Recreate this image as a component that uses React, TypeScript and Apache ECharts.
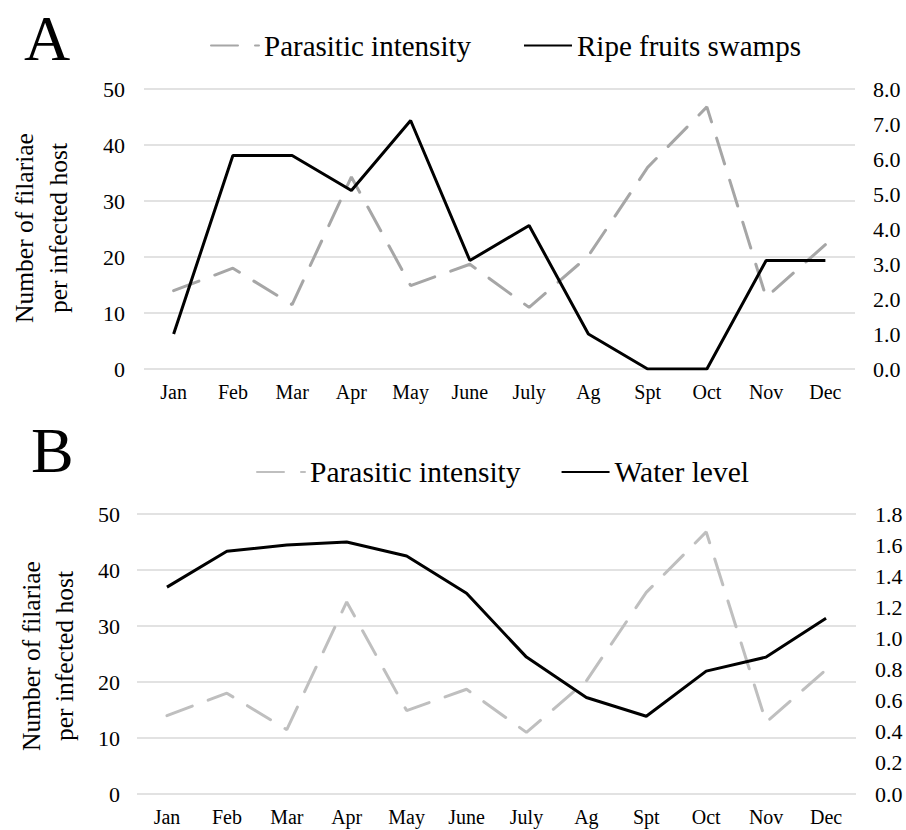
import React, { useEffect, useRef } from "react";
import * as echarts from "echarts";

const months = ["Jan", "Feb", "Mar", "Apr", "May", "June", "July", "Ag", "Spt", "Oct", "Nov", "Dec"];
const parasiticIntensity = [14, 18, 11.5, 34.3, 14.9, 18.7, 11, 20.2, 36, 46.8, 12.8, 22.2];
const ripeFruitsSwamps = [1.0, 6.1, 6.1, 5.1, 7.1, 3.1, 4.1, 1.0, 0, 0, 3.1, 3.1];
const waterLevel = [1.33, 1.56, 1.6, 1.62, 1.53, 1.29, 0.88, 0.62, 0.5, 0.79, 0.88, 1.13];

const FONT = "Liberation Serif";
const GRID_COLOR = "#d9d9d9";
const DASH = [27, 17];

export default function App() {
  const ref = useRef<HTMLDivElement>(null);

  useEffect(() => {
    if (!ref.current) return;
    const chart = echarts.init(ref.current, undefined, { renderer: "svg" });

    const monthStyle = { fontFamily: FONT, fontSize: 20, color: "#000" };
    const numStyle = { fontFamily: FONT, fontSize: 22, color: "#000" };
    const xAxisBase = (gridIndex: number) => ({
      type: "category" as const,
      gridIndex,
      data: months,
      boundaryGap: true,
      axisLine: { show: false },
      axisTick: { show: false },
      axisLabel: { ...monthStyle, margin: 13 },
    });
    const leftAxis = (gridIndex: number, margin: number) => ({
      type: "value" as const,
      gridIndex,
      position: "left" as const,
      min: 0,
      max: 50,
      interval: 10,
      axisLine: { show: false },
      axisTick: { show: false },
      axisLabel: { ...numStyle, margin },
      splitLine: { show: true, lineStyle: { color: GRID_COLOR, width: 1.5 } },
    });
    const rightAxis = (gridIndex: number, max: number, interval: number, margin: number) => ({
      type: "value" as const,
      gridIndex,
      position: "right" as const,
      min: 0,
      max,
      interval,
      axisLine: { show: false },
      axisTick: { show: false },
      axisLabel: { ...numStyle, margin, formatter: (v: number) => v.toFixed(1) },
      splitLine: { show: false },
    });

    const yName = "Number of filariae\nper infected host";
    const legendBase = {
      itemWidth: 48,
      itemHeight: 14,
      itemGap: 52,
      itemTextGap: 7,
      itemStyle: { opacity: 0 },
      textStyle: { fontFamily: FONT, fontSize: 29, color: "#000" },
      selectedMode: false,
    };

    chart.setOption({
      animation: false,
      backgroundColor: "#fff",
      grid: [
        { left: 144, right: 51, top: 89, height: 280 },
        { left: 137, right: 50, top: 514, height: 280 },
      ],
      legend: [
        {
          ...legendBase,
          left: 205,
          top: 26,
          data: ["Parasitic intensity", "Ripe fruits swamps"],
        },
        {
          ...legendBase,
          left: 251,
          top: 452,
          itemGap: 40,
          textStyle: { fontFamily: FONT, fontSize: 29.5, color: "#000" },
          data: [
            { name: "Parasitic intensity", lineStyle: { color: "#bfbfbf" } },
            "Water level",
          ],
        },
      ],
      xAxis: [xAxisBase(0), xAxisBase(1)],
      yAxis: [leftAxis(0, 19), rightAxis(0, 8, 1, 18), leftAxis(1, 17), rightAxis(1, 1.8, 0.2, 19)],
      series: [
        {
          name: "Parasitic intensity",
          type: "line",
          xAxisIndex: 0,
          yAxisIndex: 0,
          data: parasiticIntensity,
          symbol: "none",
          lineStyle: { color: "#a6a6a6", width: 3, type: DASH, cap: "round" },
          itemStyle: { color: "#a6a6a6" },
          z: 2,
        },
        {
          name: "Ripe fruits swamps",
          type: "line",
          xAxisIndex: 0,
          yAxisIndex: 1,
          data: ripeFruitsSwamps,
          symbol: "none",
          lineStyle: { color: "#000", width: 3 },
          itemStyle: { color: "#000" },
          z: 3,
        },
        {
          name: "Parasitic intensity",
          type: "line",
          xAxisIndex: 1,
          yAxisIndex: 2,
          data: parasiticIntensity,
          symbol: "none",
          lineStyle: { color: "#bfbfbf", width: 3, type: DASH, cap: "round" },
          itemStyle: { color: "#bfbfbf" },
          z: 2,
        },
        {
          name: "Water level",
          type: "line",
          xAxisIndex: 1,
          yAxisIndex: 3,
          data: waterLevel,
          symbol: "none",
          lineStyle: { color: "#000", width: 3 },
          itemStyle: { color: "#000" },
          z: 3,
        },
      ],
      graphic: [
        {
          type: "text",
          left: 24,
          top: 6,
          style: { text: "A", fontFamily: FONT, fontSize: 64, fill: "#000" },
        },
        {
          type: "text",
          left: 31,
          top: 418,
          style: { text: "B", fontFamily: FONT, fontSize: 64, fill: "#000" },
        },
        {
          type: "text",
          x: 41,
          y: 228,
          rotation: Math.PI / 2,
          style: {
            text: yName,
            fontFamily: FONT,
            fontSize: 25.5,
            lineHeight: 34,
            fill: "#000",
            align: "center",
            verticalAlign: "middle",
          },
        },
        {
          type: "text",
          x: 48,
          y: 656,
          rotation: Math.PI / 2,
          style: {
            text: yName,
            fontFamily: FONT,
            fontSize: 25.5,
            lineHeight: 33,
            fill: "#000",
            align: "center",
            verticalAlign: "middle",
          },
        },
      ],
    });

    return () => chart.dispose();
  }, []);

  return (
    <div
      ref={ref}
      style={{ position: "absolute", left: 0, top: 0, width: 906, height: 830, background: "#fff" }}
    />
  );
}
